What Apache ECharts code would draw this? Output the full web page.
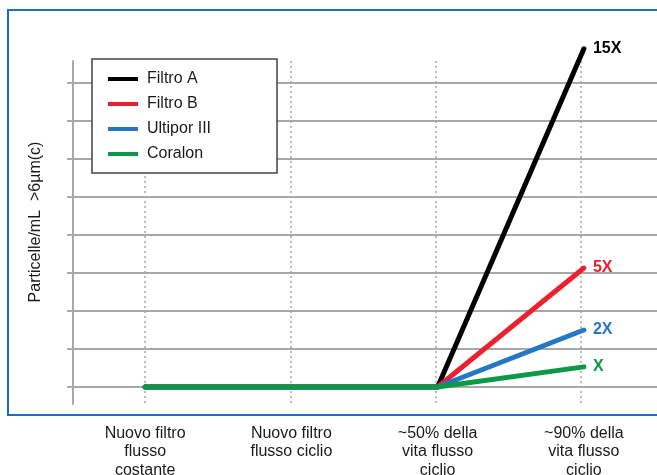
<!DOCTYPE html>
<html>
<head>
<meta charset="utf-8">
<script src="https://cdn.jsdelivr.net/npm/echarts@6/dist/echarts.min.js"></script>
<style>
html,body{margin:0;padding:0;background:#fff;}
#c{width:657px;height:475px;}
</style>
</head>
<body>
<div id="c"></div>
<script>
var categories = ['Nuovo filtro\nflusso\ncostante', 'Nuovo filtro\nflusso ciclio', '~50% della\nvita flusso\nciclio', '~90% della\nvita flusso\nciclio'];
var seriesNames = ['Filtro A', 'Filtro B', 'Ultipor III', 'Coralon'];
var filtroA = [0, 0, 0, 8.9];
var filtroB = [0, 0, 0, 3.13];
var ultipor = [0, 0, 0, 1.5];
var coralon = [0, 0, 0, 0.53];
var endLabels = ['15X', '5X', '2X', 'X'];
var yAxisTitle = 'Particelle/mL  >6µm(c)';

var colors = ['#000000', '#ec2130', '#2577c3', '#0a9a47'];
var values = [filtroA, filtroB, ultipor, coralon];
var font = '"Liberation Sans", Arial, Helvetica, sans-serif';

var chart = echarts.init(document.getElementById('c'), null, {renderer: 'canvas'});

var series = values.map(function (v, i) {
  return {
    name: seriesNames[i],
    type: 'line',
    xAxisIndex: 0,
    yAxisIndex: 0,
    data: v,
    symbol: 'none',
    clip: false,
    color: colors[i],
    lineStyle: {width: 5, color: colors[i], cap: 'round', join: 'round'},
    endLabel: {
      show: true,
      formatter: endLabels[i],
      color: colors[i],
      fontFamily: font,
      fontSize: 16,
      fontWeight: 'bold',
      distance: 9
    },
    z: 3 + i
  };
});

// dummy series so the second grid renders its axes
series.push({
  type: 'line',
  xAxisIndex: 1,
  yAxisIndex: 1,
  data: [],
  silent: true
});

chart.setOption({
  animation: false,
  backgroundColor: '#ffffff',
  grid: [
    {left: 72, right: 0, top: 83, bottom: 88, containLabel: false, outerBoundsMode: 'none'},
    {left: 145, right: 76, top: 61, bottom: 71, containLabel: false, outerBoundsMode: 'none'}
  ],
  xAxis: [
    {
      type: 'category',
      gridIndex: 0,
      data: categories,
      boundaryGap: true,
      axisLine: {show: false},
      axisTick: {show: false},
      splitLine: {show: false},
      axisLabel: {
        show: true,
        margin: 37,
        color: '#1a1a1a',
        fontFamily: font,
        fontSize: 16,
        lineHeight: 18.5,
        align: 'center'
      }
    },
    {
      type: 'category',
      gridIndex: 1,
      data: categories,
      boundaryGap: false,
      axisLine: {show: false},
      axisTick: {show: false},
      axisLabel: {show: false},
      splitLine: {show: true, lineStyle: {color: '#a6a6a6', width: 1.5, type: [2, 3]}}
    }
  ],
  yAxis: [
    {
      type: 'value',
      gridIndex: 0,
      min: 0,
      max: 8,
      interval: 1,
      axisLine: {show: false},
      axisLabel: {show: false},
      axisTick: {show: true, length: 5, inside: false, lineStyle: {color: '#a8a8a8', width: 2}},
      splitLine: {show: true, lineStyle: {color: '#a8a8a8', width: 2}}
    },
    {
      type: 'value',
      gridIndex: 1,
      min: 0,
      max: 1,
      offset: 72,
      axisLine: {show: true, onZero: false, lineStyle: {color: '#a8a8a8', width: 2}},
      axisLabel: {show: false},
      axisTick: {show: false},
      splitLine: {show: false}
    }
  ],
  legend: {
    data: seriesNames,
    orient: 'vertical',
    left: 92,
    top: 59,
    backgroundColor: '#ffffff',
    borderColor: '#444444',
    borderWidth: 1.5,
    borderRadius: 0,
    padding: [12, 66, 11, 16],
    icon: 'rect',
    itemWidth: 30,
    itemHeight: 4,
    itemGap: 9,
    selectedMode: false,
    textStyle: {
      fontFamily: font,
      fontSize: 16,
      color: '#1a1a1a',
      lineHeight: 16,
      padding: [0, 0, 0, 4]
    },
    z: 10
  },
  graphic: [
    {
      type: 'rect',
      shape: {x: 8, y: 10, width: 660, height: 405},
      style: {fill: 'none', stroke: '#1f6ec0', lineWidth: 2},
      z: 1,
      silent: true
    },
    {
      type: 'text',
      x: 36,
      y: 222,
      rotation: Math.PI / 2,
      style: {
        text: yAxisTitle,
        fill: '#1a1a1a',
        font: '16px ' + font,
        align: 'center',
        verticalAlign: 'middle'
      },
      z: 2,
      silent: true
    }
  ],
  series: series
});
</script>
</body>
</html>
